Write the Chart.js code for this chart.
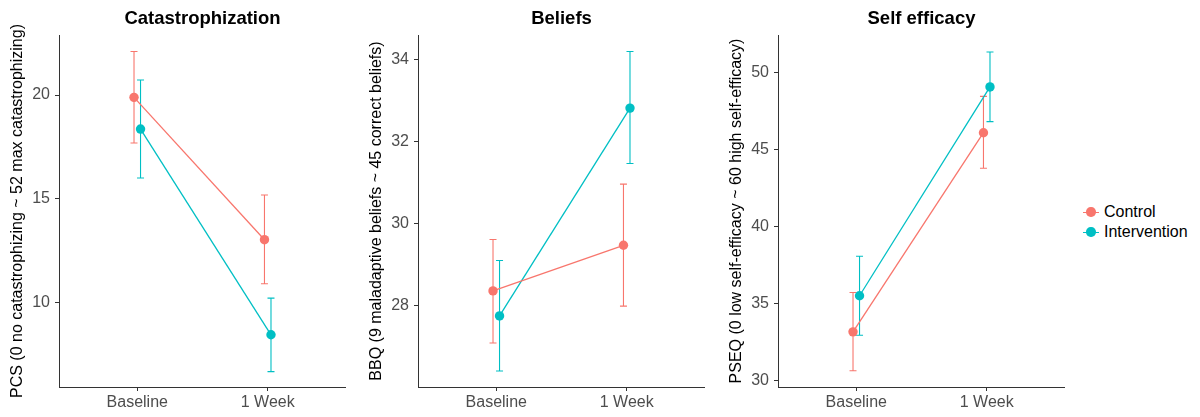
<!DOCTYPE html>
<html><head><meta charset="utf-8">
<script src="https://cdn.jsdelivr.net/npm/chart.js@4"></script>
<style>
html,body{margin:0;padding:0;background:#fff;width:1200px;height:417px;overflow:hidden;font-family:"Liberation Sans",Arial,sans-serif}
canvas{position:absolute;top:0}
#legend{position:absolute;left:1082px;top:202px;font-size:16px;color:#000}
.item{position:relative;height:20px;line-height:20px;padding-left:22px;white-space:nowrap}
.item .ln{position:absolute;left:1px;top:9.5px;width:16px;height:1px}
.item .dt{position:absolute;left:4.3px;top:5.3px;width:9.4px;height:9.4px;border-radius:50%}
</style></head>
<body>
<canvas id="c1" width="346" height="417" style="left:0px"></canvas>
<canvas id="c2" width="346" height="417" style="left:359px"></canvas>
<canvas id="c3" width="346" height="417" style="left:719px"></canvas>
<div id="legend"></div>
<script>
const categories = ['Baseline', '1 Week'];
const seriesNames = ['Control', 'Intervention'];
const seriesColors = ['#F8766D', '#00BFC4'];

const pcsControl = [19.89, 13.02];
const pcsControlLow = [17.69, 10.89];
const pcsControlHigh = [22.10, 15.18];
const pcsIntervention = [18.36, 8.43];
const pcsInterventionLow = [16.00, 6.65];
const pcsInterventionHigh = [20.73, 10.20];
const pcsTicks = [10, 15, 20];
const pcsLimits = [5.91, 22.9];

const bbqControl = [28.36, 29.47];
const bbqControlLow = [27.09, 27.99];
const bbqControlHigh = [29.61, 30.96];
const bbqIntervention = [27.75, 32.81];
const bbqInterventionLow = [26.41, 31.46];
const bbqInterventionHigh = [29.10, 34.19];
const bbqTicks = [28, 30, 32, 34];
const bbqLimits = [26.02, 34.59];

const pseqControl = [33.16, 46.08];
const pseqControlLow = [30.63, 43.77];
const pseqControlHigh = [35.71, 48.44];
const pseqIntervention = [35.50, 49.05];
const pseqInterventionLow = [32.94, 46.80];
const pseqInterventionHigh = [38.06, 51.32];
const pseqTicks = [30, 35, 40, 45, 50];
const pseqLimits = [29.58, 52.42];

const FONT = '"Liberation Sans", Arial, sans-serif';
const DODGE = 0.025;

const errorBarPlugin = {
  id: 'errbars',
  beforeDatasetsDraw(chart) {
    const ctx = chart.ctx, xs = chart.scales.x, ys = chart.scales.y;
    chart.data.datasets.forEach(ds => {
      ctx.save();
      ctx.strokeStyle = ds.borderColor;
      ctx.lineWidth = 1.1;
      ds.data.forEach(p => {
        const x = xs.getPixelForValue(p.x);
        const y1 = ys.getPixelForValue(p.lo), y2 = ys.getPixelForValue(p.hi);
        const w = 3.5;
        ctx.beginPath();
        ctx.moveTo(x, y1); ctx.lineTo(x, y2);
        ctx.moveTo(x - w, y1); ctx.lineTo(x + w, y1);
        ctx.moveTo(x - w, y2); ctx.lineTo(x + w, y2);
        ctx.stroke();
      });
      ctx.restore();
    });
  }
};

function makeSeries(mean, lo, hi, idx) {
  const off = idx === 0 ? -DODGE : DODGE;
  return {
    label: seriesNames[idx],
    data: mean.map((v, i) => ({x: i + 1 + off, y: v, lo: lo[i], hi: hi[i]})),
    borderColor: seriesColors[idx],
    backgroundColor: seriesColors[idx],
    borderWidth: 1.3,
    pointRadius: 4.7,
    pointBorderWidth: 0,
    pointHoverRadius: 4.7,
    tension: 0
  };
}

function makeChart(id, title, yTitle, series, ticks, limits) {
  new Chart(document.getElementById(id), {
    type: 'line',
    data: {datasets: series},
    options: {
      responsive: false, animation: false, devicePixelRatio: 1,
      layout: {padding: 0, autoPadding: false},
      plugins: {
        legend: {display: false}, tooltip: {enabled: false},
        title: {display: true, text: title, fullSize: false, color: '#000',
          font: {family: FONT, size: 18.5, weight: 'bold'}, padding: {top: 8, bottom: 4.8}}
      },
      scales: {
        x: {
          type: 'linear', min: 0.4, max: 2.6,
          afterBuildTicks: s => { s.ticks = categories.map((c, i) => ({value: i + 1})); },
          afterFit: s => { s.height = 30; },
          ticks: {callback: v => categories[Math.round(v) - 1], color: '#4d4d4d', padding: 2,
            font: {family: FONT, size: 16}, maxRotation: 0, autoSkip: false},
          grid: {drawOnChartArea: false, drawTicks: true, tickLength: 4, color: '#333', lineWidth: 1},
          border: {display: true, color: '#333', width: 1}
        },
        y: {
          type: 'linear', min: limits[0], max: limits[1],
          afterBuildTicks: s => { s.ticks = ticks.map(v => ({value: v})); },
          afterFit: s => { s.width = 59; },
          ticks: {color: '#4d4d4d', padding: 5, font: {family: FONT, size: 16}, autoSkip: false},
          grid: {drawOnChartArea: false, drawTicks: true, tickLength: 4, color: '#333', lineWidth: 1},
          border: {display: true, color: '#333', width: 1},
          title: {display: true, text: yTitle, color: '#000', font: {family: FONT, size: 16}, padding: {top: 8, bottom: 0}}
        }
      }
    },
    plugins: [errorBarPlugin]
  });
}

makeChart('c1', 'Catastrophization', 'PCS (0 no catastrophizing ~ 52 max catastrophizing)',
  [makeSeries(pcsControl, pcsControlLow, pcsControlHigh, 0),
   makeSeries(pcsIntervention, pcsInterventionLow, pcsInterventionHigh, 1)], pcsTicks, pcsLimits);
makeChart('c2', 'Beliefs', 'BBQ (9 maladaptive beliefs ~ 45 correct beliefs)',
  [makeSeries(bbqControl, bbqControlLow, bbqControlHigh, 0),
   makeSeries(bbqIntervention, bbqInterventionLow, bbqInterventionHigh, 1)], bbqTicks, bbqLimits);
makeChart('c3', 'Self efficacy', 'PSEQ (0 low self-efficacy ~ 60 high self-efficacy)',
  [makeSeries(pseqControl, pseqControlLow, pseqControlHigh, 0),
   makeSeries(pseqIntervention, pseqInterventionLow, pseqInterventionHigh, 1)], pseqTicks, pseqLimits);

const legend = document.getElementById('legend');
seriesNames.forEach((n, i) => {
  const d = document.createElement('div');
  d.className = 'item';
  d.innerHTML = '<span class="ln" style="background:' + seriesColors[i] + '"></span><span class="dt" style="background:' + seriesColors[i] + '"></span>' + n;
  legend.appendChild(d);
});
</script>
</body></html>
